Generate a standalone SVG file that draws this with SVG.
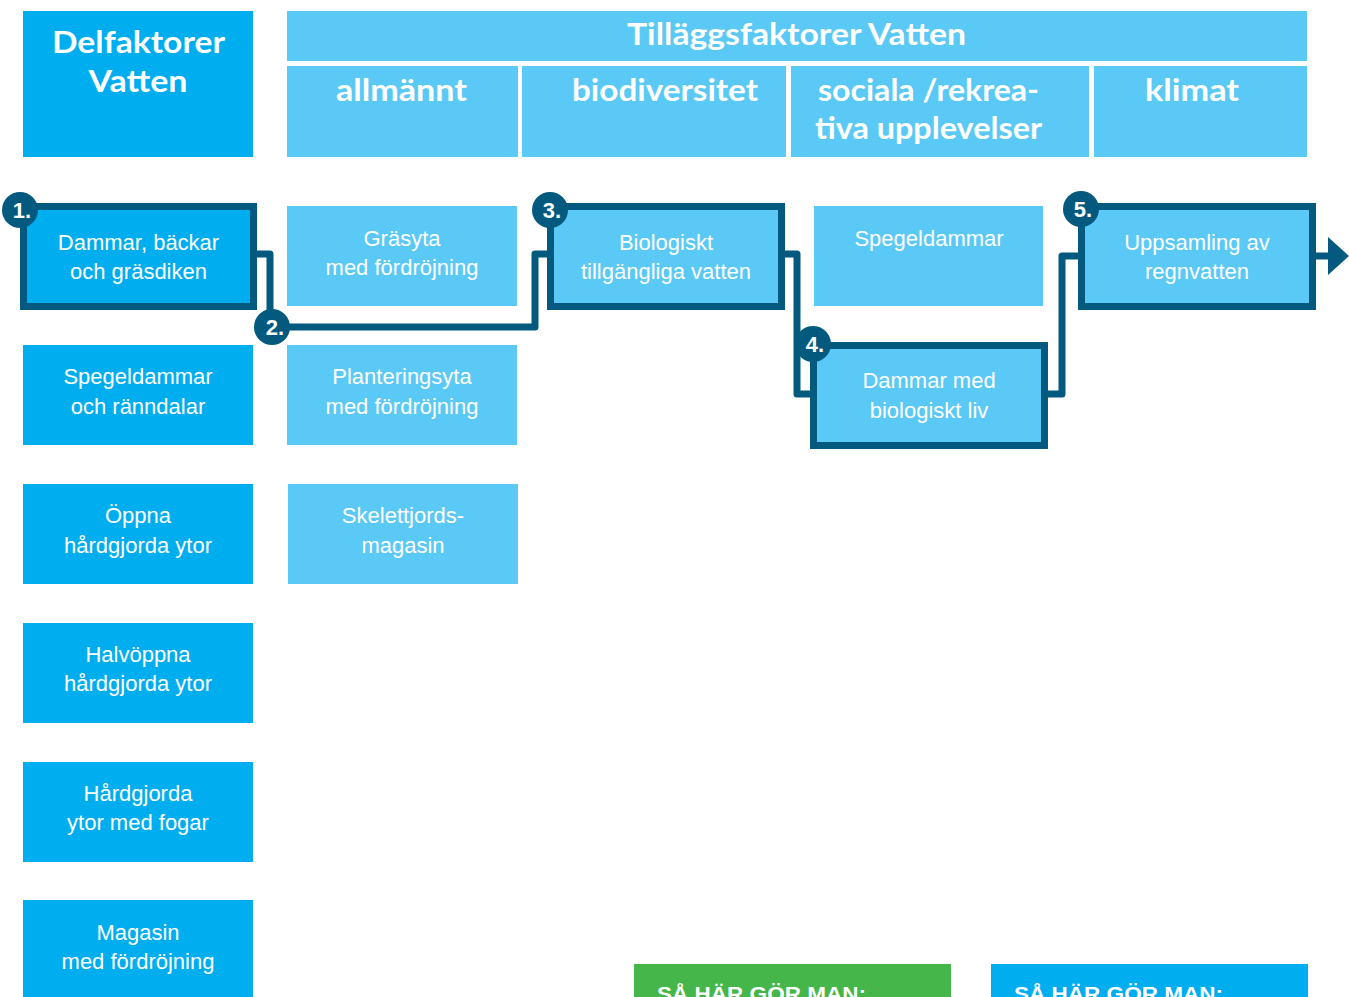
<svg xmlns="http://www.w3.org/2000/svg" width="1349" height="997" viewBox="0 0 1349 997">
<style>
.hd{fill:#5BC9F5}
.dk{fill:#00AEEF}
.lt{fill:#5BC9F5}
.sel{stroke:#045A7E;stroke-width:7}
.ht{font-family:Lato,"Open Sans",sans-serif;font-weight:bold;fill:#fff;text-anchor:middle}
.nt{font-family:"Liberation Sans",Arial,sans-serif;font-size:22px;fill:#fff;text-anchor:middle}
.num{fill:#045A7E}
.nn{font-family:"Liberation Sans",Arial,sans-serif;font-weight:bold;font-size:22px;fill:#fff;text-anchor:middle}
.conn{fill:none;stroke:#045A7E;stroke-width:7;stroke-linejoin:round}
.bt{font-family:"Liberation Sans",Arial,sans-serif;font-weight:bold;font-size:21px;fill:#fff}
</style>
<rect width="1349" height="997" fill="#fff"/>

<g id="header-delfaktorer">
<rect class="dk" x="23" y="11" width="230" height="146"/>
<text class="ht" x="138.5" y="53" font-size="31" textLength="173" lengthAdjust="spacingAndGlyphs">Delfaktorer</text>
<text class="ht" x="138" y="92" font-size="31" textLength="99" lengthAdjust="spacingAndGlyphs">Vatten</text>
</g>
<g id="header-tillagg">
<rect class="hd" x="287" y="11" width="1020" height="50"/>
<text class="ht" x="796.5" y="45" font-size="30" textLength="339" lengthAdjust="spacingAndGlyphs">Tilläggsfaktorer Vatten</text>
</g>
<g id="header-allmannt">
<rect class="hd" x="287" y="66" width="231" height="91"/>
<text class="ht" x="401.5" y="101" font-size="30" textLength="131" lengthAdjust="spacingAndGlyphs">allmännt</text>
</g>
<g id="header-biodiversitet">
<rect class="hd" x="522" y="66" width="264" height="91"/>
<text class="ht" x="665" y="101" font-size="30" textLength="186" lengthAdjust="spacingAndGlyphs">biodiversitet</text>
</g>
<g id="header-sociala">
<rect class="hd" x="791" y="66" width="298" height="91"/>
<text class="ht" x="928.5" y="101" font-size="30" textLength="221" lengthAdjust="spacingAndGlyphs">sociala /rekrea-</text>
<text class="ht" x="928.5" y="139" font-size="30" textLength="227" lengthAdjust="spacingAndGlyphs">tiva upplevelser</text>
</g>
<g id="header-klimat">
<rect class="hd" x="1094" y="66" width="213" height="91"/>
<text class="ht" x="1192" y="101" font-size="30" textLength="94" lengthAdjust="spacingAndGlyphs">klimat</text>
</g>

<g id="connectors">
<path class="conn" d="M257,254 H270 V327 H535 V254 H547"/>
<path class="conn" d="M785,254 H797 V394 H810"/>
<path class="conn" d="M1048,394 H1062 V256 H1078"/>
<path class="conn" d="M1316,256 H1332"/>
<polygon fill="#045A7E" points="1328,237 1349,256 1328,275"/>
</g>

<g id="n1">
<rect class="dk sel" x="23.5" y="206.5" width="230" height="100"/>
<text class="nt" x="138.5" y="250">Dammar, bäckar</text>
<text class="nt" x="138.5" y="279">och gräsdiken</text>
</g>
<g id="n-spegel-ranndalar">
<rect class="dk" x="23" y="345" width="230" height="100"/>
<text class="nt" x="138" y="384">Spegeldammar</text>
<text class="nt" x="138" y="414">och ränndalar</text>
</g>
<g id="n-oppna">
<rect class="dk" x="23" y="484" width="230" height="100"/>
<text class="nt" x="138" y="523">Öppna</text>
<text class="nt" x="138" y="553">hårdgjorda ytor</text>
</g>
<g id="n-halvoppna">
<rect class="dk" x="23" y="623" width="230" height="100"/>
<text class="nt" x="138" y="662">Halvöppna</text>
<text class="nt" x="138" y="691">hårdgjorda ytor</text>
</g>
<g id="n-hardgjorda">
<rect class="dk" x="23" y="762" width="230" height="100"/>
<text class="nt" x="138" y="801">Hårdgjorda</text>
<text class="nt" x="138" y="830">ytor med fogar</text>
</g>
<g id="n-magasin">
<rect class="dk" x="23" y="900" width="230" height="100"/>
<text class="nt" x="138" y="940">Magasin</text>
<text class="nt" x="138" y="969">med fördröjning</text>
</g>

<g id="n-grasyta">
<rect class="lt" x="287" y="206" width="230" height="100"/>
<text class="nt" x="402" y="246">Gräsyta</text>
<text class="nt" x="402" y="275">med fördröjning</text>
</g>
<g id="n-plantering">
<rect class="lt" x="287" y="345" width="230" height="100"/>
<text class="nt" x="402" y="384">Planteringsyta</text>
<text class="nt" x="402" y="414">med fördröjning</text>
</g>
<g id="n-skelett">
<rect class="lt" x="288" y="484" width="230" height="100"/>
<text class="nt" x="403" y="523">Skelettjords-</text>
<text class="nt" x="403" y="553">magasin</text>
</g>

<g id="n3">
<rect class="lt sel" x="550.5" y="206.5" width="231" height="100"/>
<text class="nt" x="666" y="250">Biologiskt</text>
<text class="nt" x="666" y="279">tillgängliga vatten</text>
</g>
<g id="n-spegeldammar">
<rect class="lt" x="814" y="206" width="229" height="100"/>
<text class="nt" x="929" y="246">Spegeldammar</text>
</g>
<g id="n4">
<rect class="lt sel" x="813.5" y="345.5" width="231" height="100"/>
<text class="nt" x="929" y="388">Dammar med</text>
<text class="nt" x="929" y="418">biologiskt liv</text>
</g>
<g id="n5">
<rect class="lt sel" x="1081.5" y="206.5" width="231" height="100"/>
<text class="nt" x="1197" y="250">Uppsamling av</text>
<text class="nt" x="1197" y="279">regnvatten</text>
</g>

<g id="badges">
<circle class="num" cx="20" cy="210" r="18"/>
<text class="nn" x="22" y="218">1.</text>
<circle class="num" cx="272" cy="327" r="18"/>
<text class="nn" x="275" y="335">2.</text>
<circle class="num" cx="550" cy="210" r="18"/>
<text class="nn" x="552" y="218">3.</text>
<circle class="num" cx="813" cy="344" r="18"/>
<text class="nn" x="815" y="352">4.</text>
<circle class="num" cx="1081" cy="209" r="18"/>
<text class="nn" x="1083" y="217">5.</text>
</g>

<g id="btn-green">
<rect fill="#45B649" x="634" y="964" width="317" height="40"/>
<text class="bt" x="657" y="1001" textLength="209" lengthAdjust="spacingAndGlyphs">SÅ HÄR GÖR MAN:</text>
</g>
<g id="btn-blue">
<rect fill="#00AEEF" x="991" y="964" width="317" height="40"/>
<text class="bt" x="1014" y="1001" textLength="209" lengthAdjust="spacingAndGlyphs">SÅ HÄR GÖR MAN:</text>
</g>
</svg>
